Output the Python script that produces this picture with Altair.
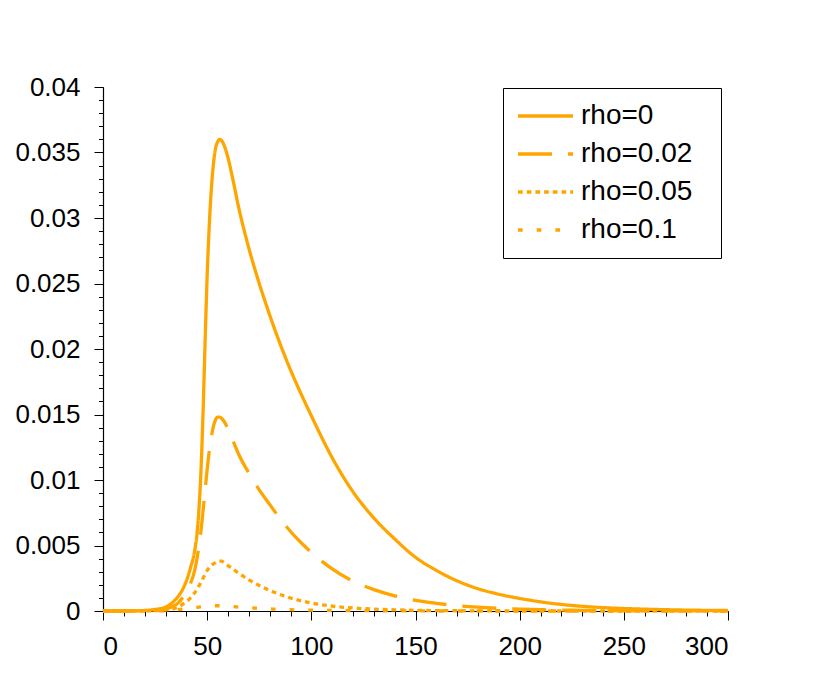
import altair as alt
import pandas as pd

# ---- data ----
x_vals = [0, 10, 20, 25, 30, 33, 36, 39, 42, 44,
          45, 46, 47, 48, 49, 50, 51, 52, 53, 54,
          55, 56, 57, 58, 60, 62, 65, 70, 75, 80,
          85, 90, 95, 100, 110, 120, 130, 140, 150, 160,
          170, 180, 190, 200, 210, 220, 230, 240, 250, 260,
          270, 280, 290, 300]

rho_0 = [0, 0, 0.00004, 0.00012, 0.0003, 0.0006, 0.0011, 0.0019, 0.0033, 0.0046,
         0.0057, 0.0076, 0.0106, 0.015, 0.0205, 0.0256, 0.0294, 0.0322, 0.0341, 0.0353,
         0.0358, 0.036, 0.0359, 0.0356, 0.0346, 0.0332, 0.0309, 0.0277, 0.025, 0.0226,
         0.0204, 0.0184, 0.0166, 0.0149, 0.0117, 0.0091, 0.0071, 0.0055, 0.0041, 0.0031,
         0.0023, 0.0017, 0.00128, 0.00096, 0.0007, 0.0005, 0.00036, 0.00026, 0.00019, 0.00014,
         0.0001, 0.00007, 0.00005, 0.00004]

rho_002 = [0, 0, 0.00002, 0.00006, 0.00015, 0.0003, 0.0006, 0.0012, 0.0021, 0.0031,
           0.0039, 0.0049, 0.0061, 0.0076, 0.0092, 0.0108, 0.0122, 0.0133, 0.0141, 0.0146,
           0.0148, 0.0148, 0.0147, 0.0145, 0.0139, 0.01315, 0.012, 0.01053, 0.00925, 0.00814,
           0.00704, 0.00607, 0.00523, 0.00447, 0.00322, 0.00228, 0.00163, 0.00116, 0.00082, 0.00059,
           0.00041, 0.00029, 0.0002, 0.000144, 0.0001, 0.00007, 0.00005, 0.00003, 0.00002, 0.00002,
           0.00001, 0.00001, 0.00001, 0.00001]

rho_005 = [0, 0, 0.00001, 0.00003, 0.00007, 0.00012, 0.0003, 0.0006, 0.001, 0.0014,
           0.0016, 0.0019, 0.0022, 0.0025, 0.0028, 0.0031, 0.0033, 0.0035, 0.0036, 0.0037,
           0.0038, 0.0038, 0.0038, 0.0037, 0.00346, 0.00325, 0.0029, 0.00238, 0.00195, 0.00158,
           0.00126, 0.00099, 0.00078, 0.00061, 0.00037, 0.00023, 0.00014, 0.00009, 0.00005, 0.00003,
           0.00002, 0.00001, 0, 0, 0, 0, 0, 0, 0, 0,
           0, 0, 0, 0]

rho_01 = [0, 0, 0, 0, 0.00002, 0.00005, 0.0001, 0.00015, 0.0002, 0.00025,
          0.00027, 0.0003, 0.00032, 0.00034, 0.00036, 0.00038, 0.00039, 0.0004, 0.0004, 0.0004,
          0.0004, 0.0004, 0.0004, 0.00039, 0.00037, 0.00034, 0.0003, 0.00025, 0.0002, 0.00016,
          0.00012, 0.0001, 0.00008, 0.00006, 0.00004, 0.00003, 0.00002, 0.00001, 0.00001, 0,
          0, 0, 0, 0, 0, 0, 0, 0, 0, 0,
          0, 0, 0, 0]

series_names = ["rho=0", "rho=0.02", "rho=0.05", "rho=0.1"]

x_major = [0, 50, 100, 150, 200, 250, 300]
x_minor = [0, 10, 20, 30, 40, 50, 60, 70, 80, 90, 100, 110, 120, 130, 140, 150,
           160, 170, 180, 190, 200, 210, 220, 230, 240, 250, 260, 270, 280, 290, 300]
y_major = [0, 0.005, 0.01, 0.015, 0.02, 0.025, 0.03, 0.035, 0.04]
y_minor = [0, 0.001, 0.002, 0.003, 0.004, 0.005, 0.006, 0.007, 0.008, 0.009,
           0.01, 0.011, 0.012, 0.013, 0.014, 0.015, 0.016, 0.017, 0.018, 0.019,
           0.02, 0.021, 0.022, 0.023, 0.024, 0.025, 0.026, 0.027, 0.028, 0.029,
           0.03, 0.031, 0.032, 0.033, 0.034, 0.035, 0.036, 0.037, 0.038, 0.039, 0.04]

rows = []
for name, vals in zip(series_names, [rho_0, rho_002, rho_005, rho_01]):
    for xv, yv in zip(x_vals, vals):
        rows.append({"x": xv, "y": yv, "series": name})
df = pd.DataFrame(rows)

FONT = "Liberation Sans"
ORANGE = "#FFA500"
dashes = [[1, 0], [34, 16], [4.7, 4], [4.7, 14]]
widths = [3.3, 3.3, 4.7, 4.7]

xs = alt.Scale(domain=[0, 300], nice=False, zero=False)
ys = alt.Scale(domain=[0, 0.04], nice=False, zero=False)

legend = alt.Legend(
    orient="none", legendX=400, legendY=1,
    title="\u00a0", titleOrient="right", titlePadding=15, titleFontSize=10,
    symbolType="M-2.75,0H2.75", symbolSize=400,
    symbolStrokeColor=ORANGE, symbolFillColor="transparent",
    symbolOffset=14.5, labelOffset=21.5,
    labelFont=FONT, labelFontSize=28, labelColor="black", labelLimit=0,
    rowPadding=10, padding=14,
    strokeColor="black", fillColor="white", cornerRadius=0,
)

minor = alt.Chart(df).mark_line(opacity=0).encode(
    x=alt.X("x:Q", scale=xs, axis=alt.Axis(values=x_minor, tickSize=5, labels=False,
                                            domain=False, title=None, grid=False, orient="bottom")),
    y=alt.Y("y:Q", scale=ys, axis=alt.Axis(values=y_minor, tickSize=4.5, labels=False,
                                            domain=False, title=None, grid=False, orient="left")),
    detail="series:N",
)

lines = alt.Chart(df).mark_line(interpolate="monotone", color=ORANGE).encode(
    x=alt.X("x:Q", scale=xs, axis=alt.Axis(values=x_major, tickSize=9, labelPadding=13,
                                            title=None, grid=False, orient="bottom")),
    y=alt.Y("y:Q", scale=ys, axis=alt.Axis(values=y_major, tickSize=9, labelPadding=14,
                                            format="~g", title=None, grid=False, orient="left")),
    strokeDash=alt.StrokeDash("series:N", scale=alt.Scale(domain=series_names, range=dashes),
                              sort=series_names, legend=legend),
    strokeWidth=alt.StrokeWidth("series:N", scale=alt.Scale(domain=series_names, range=widths),
                                sort=series_names, legend=legend),
)

chart = alt.layer(minor, lines).resolve_axis(
    x="independent", y="independent"
).resolve_scale(x="shared", y="shared").properties(
    width=625, height=524,
    autosize=alt.AutoSizeParams(type="none"),
    padding={"left": 95, "top": 79, "right": 85, "bottom": 70},
    background="white",
).configure_view(stroke=None).configure_axis(
    labelFont=FONT, labelFontSize=26, labelColor="black",
    domainColor="black", domainWidth=1.2, tickColor="black", tickWidth=1,
)

chart.save("out.html", embed_options={"renderer": "svg", "actions": False})
